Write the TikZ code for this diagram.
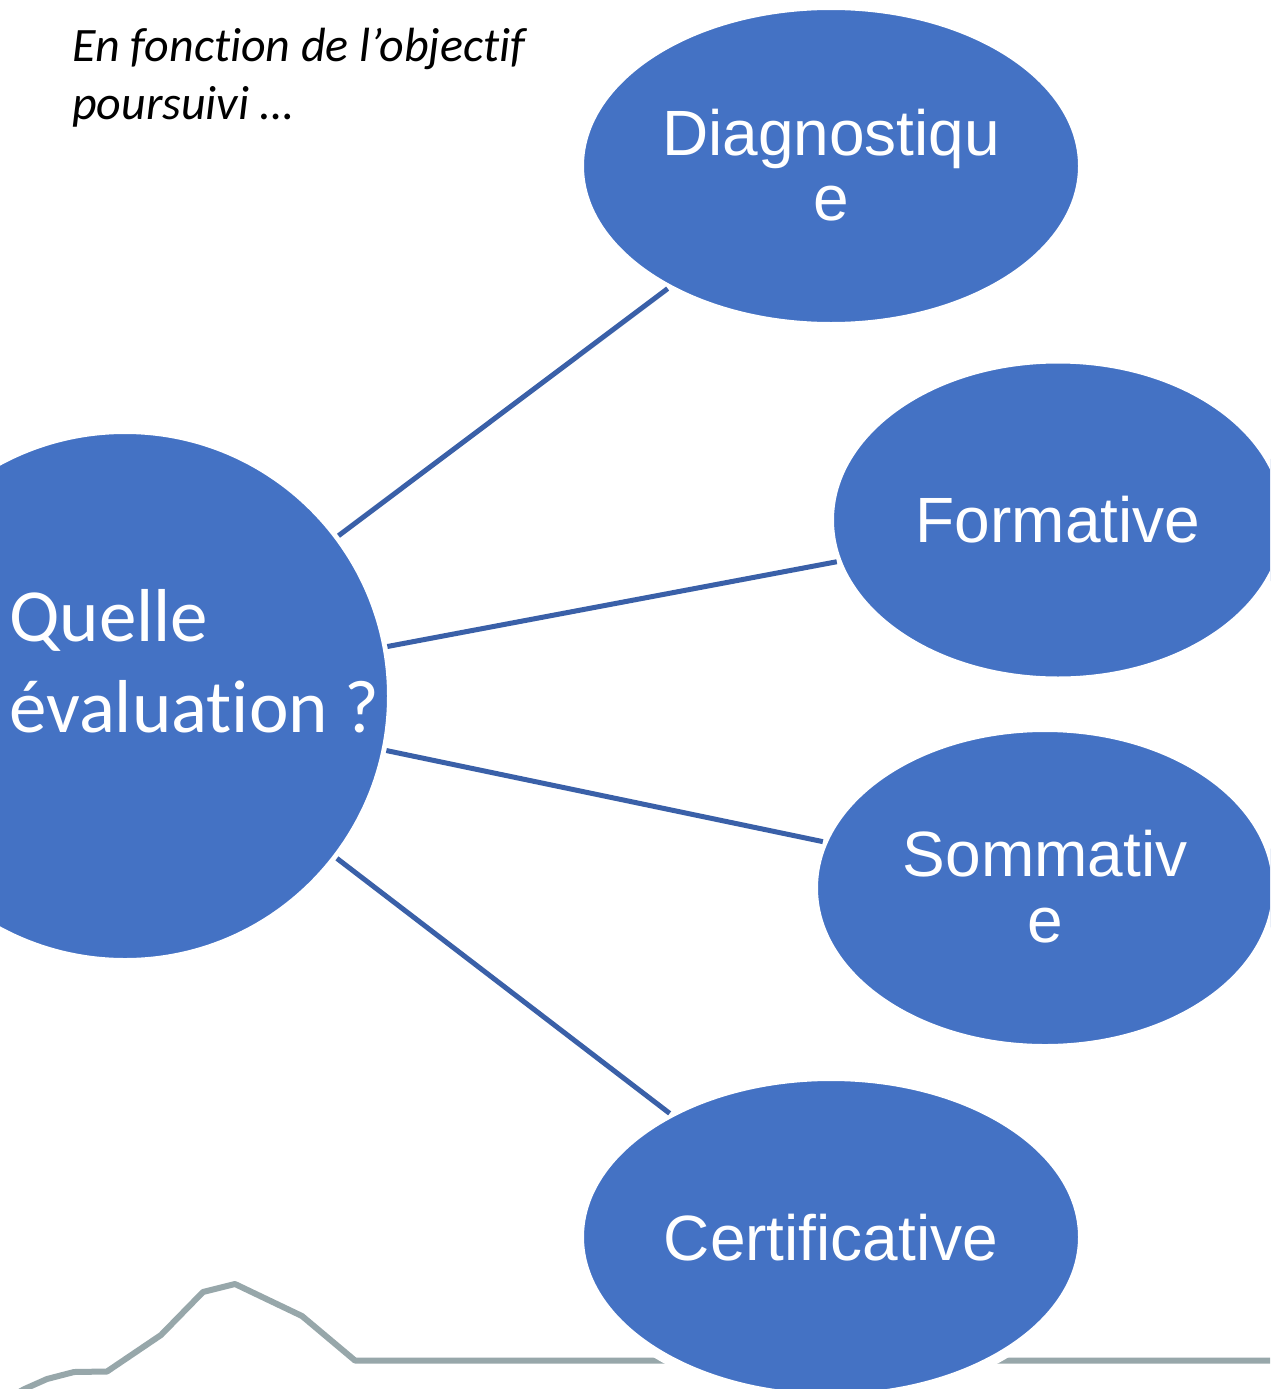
\documentclass[tikz,border=0pt]{standalone}
\usepackage{fontspec}
\setmainfont[Ligatures=NoCommon]{Liberation Sans}
\newfontfamily\calib[Ligatures=NoCommon]{Carlito}
\usetikzlibrary{shapes.geometric}
\definecolor{blueF}{HTML}{4472C4}
\definecolor{lineC}{HTML}{3A60A8}
\definecolor{grayL}{HTML}{97A7AA}
\begin{document}
\begin{tikzpicture}[x=1pt,y=-1pt,
  bubble/.style={ellipse, fill=blueF, draw=white, line width=10pt, inner sep=0pt, outer sep=0pt},
  ball/.style={circle, fill=blueF, draw=white, line width=10pt, inner sep=0pt, outer sep=0pt, minimum size=534pt},
  lbl/.style={text=white, font=\fontsize{64}{66}\selectfont, anchor=base, inner sep=0pt},
  qlbl/.style={text=white, font=\calib\fontsize{75}{90}\selectfont, anchor=base west, inner sep=0pt},
  itlbl/.style={text=black, font=\calib\itshape\fontsize{48}{56}\selectfont, anchor=base west, inner sep=0pt},
  conn/.style={draw=lineC, line width=5pt},
  hill/.style={draw=grayL, line width=6pt, line join=round},
]
\useasboundingbox (0,0) rectangle (1270,1389);
\clip (0,0) rectangle (1270,1389);
\fill[white] (0,0) rectangle (1270,1389);
% background grey line
\draw[hill] (10,1397) -- (24.5,1389) -- (47,1379) -- (74,1372) -- (107,1371.5) -- (161,1335) -- (203,1292) -- (235,1284) -- (302,1316) -- (355,1360.5) -- (1290,1360.5);
% shapes
\node[ball] (q) at (125,696) {};
\node[bubble, minimum width=504pt, minimum height=322pt] (d) at (831,166) {};
\node[bubble, minimum width=458pt, minimum height=323pt] (f) at (1058,520) {};
\node[bubble, minimum width=464pt, minimum height=322pt] (s) at (1045,888) {};
\node[bubble, minimum width=504pt, minimum height=322pt] (c) at (831,1237) {};
% connectors
\draw[conn] (q) -- (d);
\draw[conn] (q) -- (f);
\draw[conn] (q) -- (s);
\draw[conn] (q) -- (c);
% labels
\node[lbl] (dt1) at (831,155) {Diagnostiqu};
\node[lbl] (dt2) at (831,220) {e};
\node[lbl] (ft) at (1058,542) {Formative};
\node[lbl] (st1) at (1045,876) {Sommativ};
\node[lbl] (st2) at (1045,942) {e};
\node[lbl] (ct) at (831,1260) {Certificative};
\node[qlbl] (qt1) at (9,641) {Quelle};
\node[qlbl] (qt2) at (9,732) {évaluation ?};
\node[itlbl] (it1) at (72,62) {En fonction de l’objectif};
\node[itlbl] (it2) at (72,119) {poursuivi …};
\end{tikzpicture}
\end{document}
